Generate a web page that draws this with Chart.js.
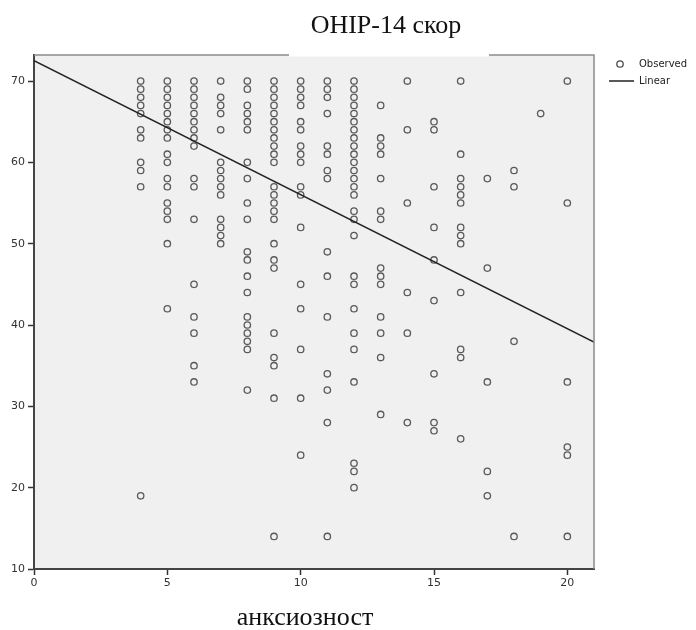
<!DOCTYPE html>
<html>
<head>
<meta charset="utf-8">
<script src="https://cdn.jsdelivr.net/npm/chart.js@4.4.0/dist/chart.umd.min.js"></script>
<style>
  html, body { margin: 0; padding: 0; background: #fff; }
</style>
</head>
<body>
<canvas id="myChart" width="696" height="630"></canvas>
<script>
// OHIP-14 scores observed at each anxiety score
const anx4 = [70, 69, 68, 67, 66, 64, 63, 60, 59, 57, 19];
const anx5 = [70, 69, 68, 67, 66, 65, 64, 63, 61, 60, 58, 57, 55, 54, 53, 50, 42];
const anx6 = [70, 69, 68, 67, 66, 65, 64, 63, 62, 58, 57, 53, 45, 41, 39, 35, 33];
const anx7 = [70, 68, 67, 66, 64, 60, 59, 58, 57, 56, 53, 52, 51, 50];
const anx8 = [70, 69, 67, 66, 65, 64, 60, 58, 55, 53, 49, 48, 46, 44, 41, 40, 39, 38, 37, 32];
const anx9 = [70, 69, 68, 67, 66, 65, 64, 63, 62, 61, 60, 57, 56, 55, 54, 53, 50, 48, 47, 39, 36, 35, 31, 14];
const anx10 = [70, 69, 68, 67, 65, 64, 62, 61, 60, 57, 56, 52, 45, 42, 37, 31, 24];
const anx11 = [70, 69, 68, 66, 62, 61, 59, 58, 49, 46, 41, 34, 32, 28, 14];
const anx12 = [70, 69, 68, 67, 66, 65, 64, 63, 62, 61, 60, 59, 58, 57, 56, 54, 53, 51, 46, 45, 42, 39, 37, 33, 23, 22, 20];
const anx13 = [67, 63, 62, 61, 58, 54, 53, 47, 46, 45, 41, 39, 36, 29];
const anx14 = [70, 64, 55, 44, 39, 28];
const anx15 = [65, 64, 57, 52, 48, 43, 34, 28, 27];
const anx16 = [70, 61, 58, 57, 56, 55, 52, 51, 50, 44, 37, 36, 26];
const anx17 = [58, 47, 33, 22, 19];
const anx18 = [59, 57, 38, 14];
const anx19 = [66];
const anx20 = [70, 55, 33, 25, 24, 14];

const anxietyLevels = [4, 5, 6, 7, 8, 9, 10, 11, 12, 13, 14, 15, 16, 17, 18, 19, 20];
const columns = [anx4, anx5, anx6, anx7, anx8, anx9, anx10, anx11, anx12, anx13, anx14, anx15, anx16, anx17, anx18, anx19, anx20];

// linear fit, read at the two ends of the x axis
const fitX = [0, 21];
const fitY = [72.5, 37.9];

const xTicks = [0, 5, 10, 15, 20];
const yTicks = [10, 20, 30, 40, 50, 60, 70];

const observed = [];
anxietyLevels.forEach(function (a, i) {
  columns[i].forEach(function (v) { observed.push({ x: a, y: v }); });
});
const linear = fitX.map(function (x, i) { return { x: x, y: fitY[i] }; });

const tickFont = { family: 'DejaVu Sans', size: 11 };

const frame = {
  id: 'frame',
  beforeDraw(chart) {
    const a = chart.chartArea, c = chart.ctx;
    c.save();
    c.fillStyle = '#f0f0f0';
    c.fillRect(a.left, a.top, a.right - a.left, a.bottom - a.top);
    c.restore();
  },
  afterDraw(chart) {
    const a = chart.chartArea, c = chart.ctx;
    c.save();
    // top and right border
    c.strokeStyle = '#8a8a8a';
    c.lineWidth = 1.5;
    c.beginPath();
    c.moveTo(a.left, a.top);
    c.lineTo(a.right, a.top);
    c.lineTo(a.right, a.bottom);
    c.stroke();
    // title box
    c.fillStyle = '#fff';
    c.fillRect(289, 40, 200, 16.5);
    c.fillStyle = '#111';
    c.font = '26px "Liberation Serif"';
    c.textAlign = 'center';
    c.textBaseline = 'alphabetic';
    c.fillText('OHIP-14 скор', 386, 33);
    // x axis title
    c.fillText('анксиозност', 305, 625);
    // legend
    c.font = '10px "DejaVu Sans"';
    c.textAlign = 'left';
    c.textBaseline = 'middle';
    c.fillStyle = '#222';
    c.fillText('Observed', 639, 64);
    c.fillText('Linear', 639, 81);
    c.strokeStyle = 'rgba(30,30,30,0.8)';
    c.lineWidth = 1.3;
    c.beginPath();
    c.arc(620, 64, 3.2, 0, Math.PI * 2);
    c.stroke();
    c.strokeStyle = '#222';
    c.lineWidth = 1.5;
    c.beginPath();
    c.moveTo(609, 81);
    c.lineTo(634, 81);
    c.stroke();
    c.restore();
  }
};

const config = {
  data: {
    datasets: [{
      type: 'scatter',
      label: 'Observed',
      data: observed,
      pointRadius: 3.2,
      pointBorderWidth: 1.3,
      borderColor: 'rgba(30,30,30,0.72)',
      backgroundColor: 'rgba(0,0,0,0)'
    }, {
      type: 'line',
      label: 'Linear',
      data: linear,
      borderColor: '#222',
      borderWidth: 1.6,
      pointRadius: 0,
      fill: false
    }]
  },
  options: {
    responsive: false,
    animation: false,
    events: [],
    layout: { padding: { top: 55, right: 102, bottom: 0, left: 0 } },
    plugins: {
      legend: { display: false },
      tooltip: { enabled: false }
    },
    scales: {
      x: {
        type: 'linear',
        min: 0,
        max: 21,
        afterBuildTicks: function (s) { s.ticks = xTicks.map(function (v) { return { value: v }; }); },
        afterFit: function (s) { s.height = 61; },
        ticks: { font: tickFont, color: '#333', padding: 2 },
        grid: { drawOnChartArea: false, tickLength: 6, color: '#333', tickWidth: 1.5 },
        border: { color: '#444', width: 2 }
      },
      y: {
        type: 'linear',
        min: 10,
        max: 73.2,
        afterBuildTicks: function (s) { s.ticks = yTicks.map(function (v) { return { value: v }; }); },
        afterFit: function (s) { s.width = 34; },
        ticks: { font: tickFont, color: '#333', padding: 3 },
        grid: { drawOnChartArea: false, tickLength: 6, color: '#333', tickWidth: 1.5 },
        border: { color: '#444', width: 2 }
      }
    }
  },
  plugins: [frame]
};

var ctx = document.getElementById('myChart').getContext('2d');
var myChart = new Chart(ctx, config);
</script>
</body>
</html>
